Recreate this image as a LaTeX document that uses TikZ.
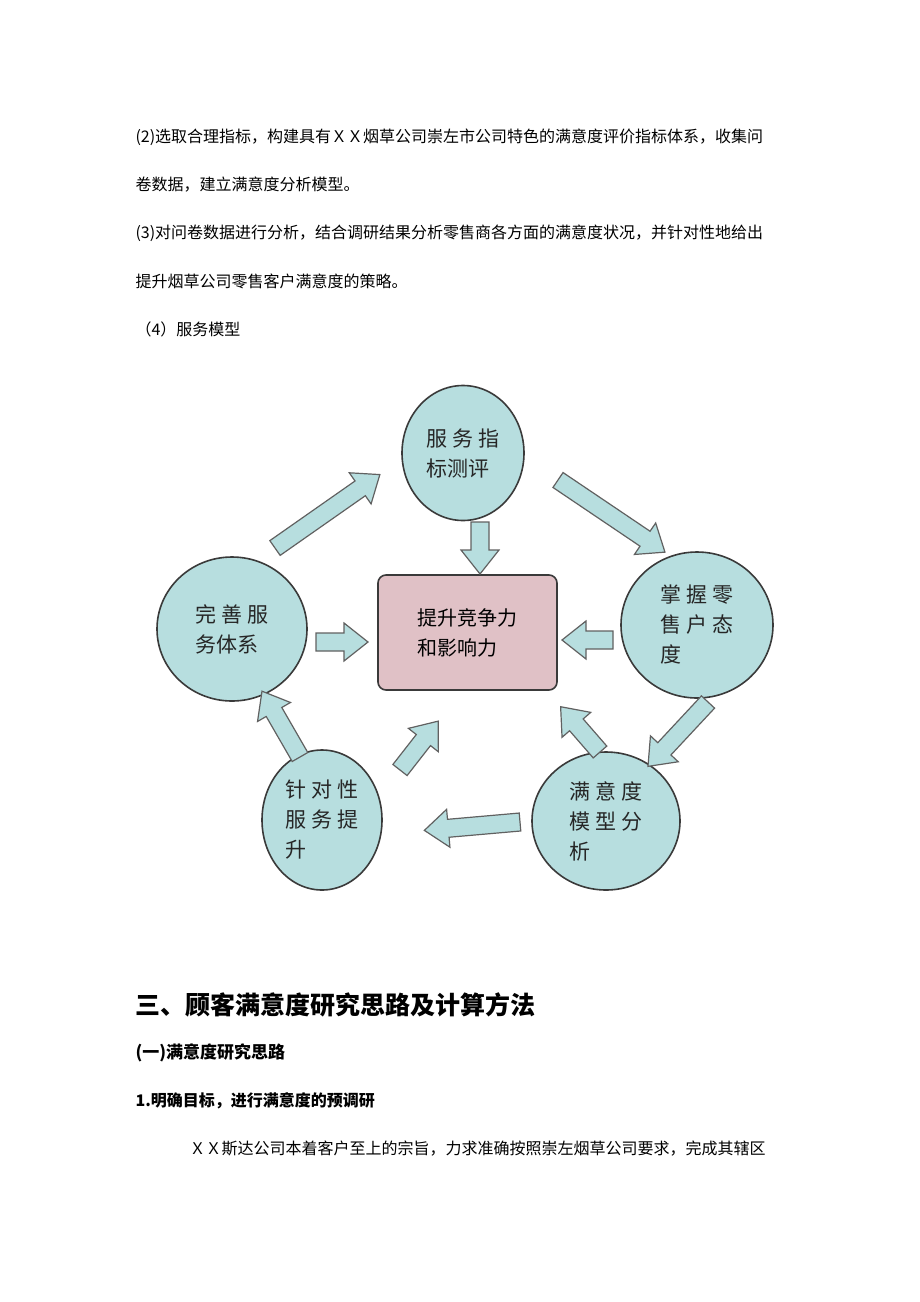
\documentclass[tikz,border=0pt]{standalone}
\usepackage{fontspec}
\setmainfont{Noto Sans CJK SC}
\newfontfamily\cjk{Noto Sans CJK SC}
\definecolor{circfill}{HTML}{B7DEDF}
\definecolor{boxfill}{HTML}{E0C1C6}
\definecolor{edge}{HTML}{3A3A3A}
\newcommand\blockarrow[3]{%
  \begin{scope}[shift={(#1)},rotate=-#2]
    \draw[arrowbody] (0,-9) -- (#3-24,-9) -- (#3-24,-19) -- (#3,0) -- (#3-24,19) -- (#3-24,9) -- (0,9) -- cycle;
  \end{scope}}
\begin{document}
\begin{tikzpicture}[x=1pt,y=-1pt]
  % Common styles
  \tikzset{
    body/.style={anchor=west, font=\fontsize{16}{16}\selectfont},
    stage/.style={ellipse, draw=edge, line width=1.6pt, fill=circfill, align=left,
      font=\fontsize{21}{30}\selectfont, text=black!85},
    core/.style={draw=edge, line width=1.6pt, fill=boxfill, rounded corners=8pt,
      minimum width=179pt, minimum height=115pt, align=left, font=\fontsize{20}{30}\selectfont},
    arrowbody/.style={draw=edge!80, line width=1.2pt, fill=circfill, line join=miter}
  }
  \usetikzlibrary{shapes.geometric}
  \fill[white] (0,0) rectangle (920,1302);

  % --- Page text ---
  \node[body] (p1) at (132,137) {(2)选取合理指标，构建具有ＸＸ烟草公司崇左市公司特色的满意度评价指标体系，收集问};
  \node[body] (p2) at (132,185) {卷数据，建立满意度分析模型。};
  \node[body] (p3) at (132,233) {(3)对问卷数据进行分析，结合调研结果分析零售商各方面的满意度状况，并针对性地给出};
  \node[body] (p4) at (132,281) {提升烟草公司零售客户满意度的策略。};
  \node[body] (p5) at (132,329) {（4）服务模型};

  % --- Service model ---
  \node[core] (center) at (467.5,632.5) {提升竞争力\\和影响力};
  \node[stage, minimum width=122pt, minimum height=135pt] (index) at (463,453) {服 务 指\\标测评};
  \node[stage, minimum width=152pt, minimum height=146pt] (attitude) at (697,625) {掌 握 零\\售 户 态\\度};
  \node[stage, minimum width=148pt, minimum height=138pt] (model) at (606,821) {满 意 度\\模 型 分\\析};
  \node[stage, minimum width=120pt, minimum height=140pt] (improve) at (322,820) {针 对 性\\服 务 提\\升};
  \node[stage, minimum width=150pt, minimum height=144pt] (system) at (232,629) {完 善 服\\务体系};

  % Block arrows
  \blockarrow{275,548}{-35}{128}
  \blockarrow{558,480}{34}{129}
  \blockarrow{480,522}{90}{52}
  \blockarrow{316,642}{0}{52}
  \blockarrow{613,640}{180}{51}
  \blockarrow{708,702}{133}{88}
  \blockarrow{600,752}{-131}{60}
  \blockarrow{520,822}{175}{96}
  \blockarrow{400,770}{-52}{62}
  \blockarrow{300,757}{-120}{76}

  % --- Section text ---
  \node[anchor=west, font=\fontsize{25}{25}\selectfont\bfseries] (h1) at (132,1005) {三、顾客满意度研究思路及计算方法};
  \node[body, font=\fontsize{17}{17}\selectfont\bfseries] (h2) at (132,1053) {(一)满意度研究思路};
  \node[body, font=\fontsize{16}{16}\selectfont\bfseries] (h3) at (132,1101) {1.明确目标，进行满意度的预调研};
  \node[body] (p6) at (186,1149) {ＸＸ斯达公司本着客户至上的宗旨，力求准确按照崇左烟草公司要求，完成其辖区};
\end{tikzpicture}
\end{document}
